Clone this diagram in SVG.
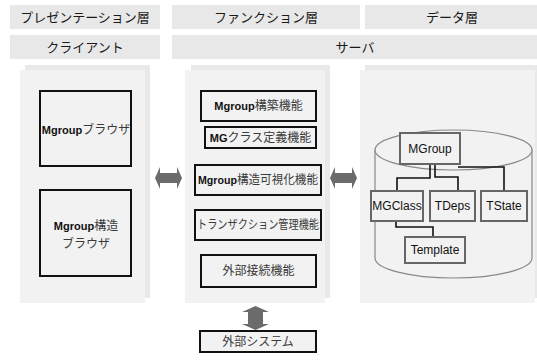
<svg xmlns="http://www.w3.org/2000/svg" width="537" height="363" viewBox="0 0 537 363">
<defs>
<style>
text{font-family:"Liberation Sans","Noto Sans CJK JP",sans-serif;fill:#111;text-anchor:middle;dominant-baseline:central}
.hdr{fill:#e8e8e8}
.ht{font-size:13px;fill:#1a1a1a}
.back{fill:#e9e9e9}
.front{fill:#f2f2f2}
.box{fill:#f2f2f2;stroke:#111;stroke-width:2}
.dbox{fill:#f2f2f2;stroke:#666;stroke-width:2}
.bt{font-size:12px;fill:#3a3a3a}
.b{font-weight:bold;font-size:11px;fill:#111}
.dt{font-size:12px;fill:#111}
.cyl{fill:#f2f2f2;stroke:#888;stroke-width:1.2}
.ln{fill:none;stroke:#111;stroke-width:1.6}
.arr{fill:#6b6b6b}
</style>
</defs>
<rect width="537" height="363" fill="#fff"/>

<g id="headers">
<rect class="hdr" x="10" y="5" width="150" height="24"/>
<text class="ht" x="85" y="17">プレゼンテーション層</text>
<rect class="hdr" x="172" y="5" width="188" height="24"/>
<text class="ht" x="266" y="17">ファンクション層</text>
<rect class="hdr" x="365" y="5" width="172" height="24"/>
<text class="ht" x="452" y="17">データ層</text>
<rect class="hdr" x="10" y="35" width="150" height="24"/>
<text class="ht" x="85" y="47">クライアント</text>
<rect class="hdr" x="172" y="35" width="365" height="24"/>
<text class="ht" x="355" y="47">サーバ</text>
</g>

<g id="panels">
<rect class="back" x="25" y="65" width="125" height="233"/>
<rect class="front" x="20" y="70" width="125" height="233"/>
<rect class="back" x="191" y="65" width="139" height="233"/>
<rect class="front" x="185" y="70" width="140" height="233"/>
<rect class="back" x="365" y="65" width="172" height="233"/>
<rect class="front" x="360" y="70" width="175" height="233"/>
</g>

<g id="client-browser">
<rect class="box" x="40" y="91" width="91" height="75"/>
<text class="bt" x="86" y="130"><tspan class="b">Mgroup</tspan>ブラウザ</text>
</g>
<g id="client-structure-browser">
<rect class="box" x="40" y="190" width="91" height="86"/>
<text class="bt" x="86" y="226"><tspan class="b">Mgroup</tspan>構造</text>
<text class="bt" x="86" y="244">ブラウザ</text>
</g>

<g id="f-build">
<rect class="box" x="201" y="91" width="115" height="30"/>
<text class="bt" x="258.5" y="106"><tspan class="b">Mgroup</tspan>構築機能</text>
</g>
<g id="f-class">
<rect class="box" x="205" y="127" width="111" height="21"/>
<text class="bt" x="260.5" y="138"><tspan class="b">MG</tspan>クラス定義機能</text>
</g>
<g id="f-visual">
<rect class="box" x="195" y="165" width="126" height="30"/>
<text class="bt" x="258" y="180" textLength="120" lengthAdjust="spacingAndGlyphs"><tspan class="b">Mgroup</tspan>構造可視化機能</text>
</g>
<g id="f-transaction">
<rect class="box" x="195" y="210" width="126" height="30"/>
<text class="bt" x="258" y="225" textLength="122" lengthAdjust="spacingAndGlyphs">トランザクション管理機能</text>
</g>
<g id="f-external">
<rect class="box" x="201" y="255" width="115" height="32"/>
<text class="bt" x="258.5" y="271">外部接続機能</text>
</g>

<g id="external-system">
<rect class="box" x="200" y="331" width="116" height="21"/>
<text class="bt" x="258" y="342">外部システム</text>
</g>

<g id="database">
<path class="cyl" d="M375,150 L375,258 A78.5,20 0 0 0 532,258 L532,150 Z"/>
<ellipse class="cyl" cx="453.5" cy="150" rx="78.5" ry="20"/>
</g>

<g id="connectors">
<path class="ln" d="M430,164 V178 H397 V191"/>
<path class="ln" d="M435,164 V177 H458 V191"/>
<path class="ln" d="M458,167 H504 V191"/>
<path class="ln" d="M396,221 V227 H433 V237"/>
<polygon class="arr" points="155,178 160,167 160,173 177,173 177,167 182,178 177,189 177,183 160,183 160,189"/>
<polygon class="arr" points="330,178 335,167 335,173 352,173 352,167 357,178 352,189 352,183 335,183 335,189"/>
<polygon class="arr" points="255.5,306 269,312 263,312 263,324 269,324 255.5,330 242,324 248,324 248,312 242,312"/>
</g>

<g id="d-mgroup">
<rect class="dbox" x="400" y="133" width="60" height="31"/>
<text class="dt" x="430" y="148.5">MGroup</text>
</g>
<g id="d-mgclass">
<rect class="dbox" x="371" y="191" width="52" height="30"/>
<text class="dt" x="397" y="206">MGClass</text>
</g>
<g id="d-tdeps">
<rect class="dbox" x="430" y="191" width="45" height="30"/>
<text class="dt" x="452.5" y="206">TDeps</text>
</g>
<g id="d-tstate">
<rect class="dbox" x="481" y="191" width="46" height="30"/>
<text class="dt" x="504" y="206">TState</text>
</g>
<g id="d-template">
<rect class="dbox" x="405" y="237" width="60" height="26"/>
<text class="dt" x="435" y="250">Template</text>
</g>
</svg>
